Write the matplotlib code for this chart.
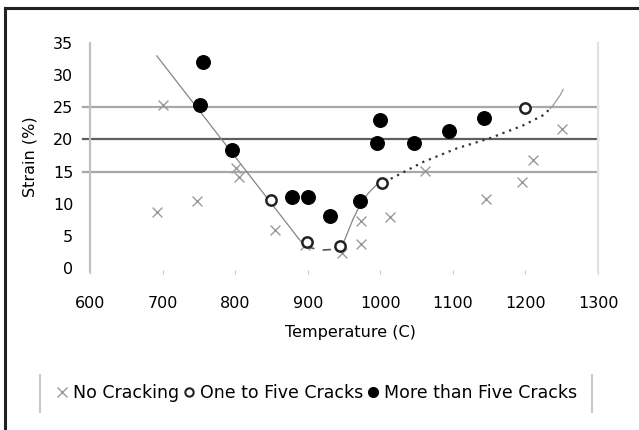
import matplotlib
matplotlib.use("Agg")
import matplotlib.pyplot as plt
from matplotlib.lines import Line2D

plt.rcParams['font.family'] = ['DejaVu Sans']

# data
no_crack_T = [692, 701, 748, 801, 806, 855, 896, 947, 974, 974, 1014, 1061, 1146, 1195, 1210, 1250]
no_crack_S = [8.8, 25.3, 10.4, 15.5, 14.2, 6.0, 3.6, 2.4, 7.3, 3.7, 8.0, 15.1, 10.8, 13.4, 16.8, 21.7]

few_T = [850, 899, 945, 1002, 1200]
few_S = [10.6, 4.1, 3.5, 13.3, 24.9]

many_T = [751, 756, 795, 879, 901, 931, 972, 995, 1000, 1047, 1095, 1143]
many_S = [25.3, 32.0, 18.4, 11.1, 11.1, 8.1, 10.4, 19.5, 23.0, 19.4, 21.3, 23.3]

# hand drawn trend line, in pieces with different dash styles
trend_a_T = [692, 895]
trend_a_S = [33.0, 3.5]
trend_b_T = [898, 920, 945]
trend_b_S = [3.3, 2.8, 3.0]
trend_c_T = [945, 951, 962, 972, 983, 997, 1005]
trend_c_S = [3.5, 4.4, 7.5, 9.8, 11.6, 13.2, 13.6]
trend_d_T = [1005, 1013, 1059, 1105, 1151, 1197, 1225, 1234]
trend_d_S = [13.6, 13.8, 16.5, 18.6, 20.2, 22.2, 23.8, 24.8]
trend_e_T = [1234, 1238, 1248, 1252]
trend_e_S = [24.8, 25.3, 26.9, 27.8]

levels = [15, 20, 25]
level_colors = ['#a8a8a8', '#5e5e5e', '#a8a8a8']

x_ticks = [600, 700, 800, 900, 1000, 1100, 1200, 1300]
y_ticks = [0, 5, 10, 15, 20, 25, 30, 35]

W, H = 639, 430
fig = plt.figure(figsize=(W / 100, H / 100), dpi=100)
ax = fig.add_axes([90 / W, 1 - 272 / H, 508 / W, 229 / H])

for lv, c in zip(levels, level_colors):
    ax.axhline(lv, xmin=-0.013, xmax=1, color=c, lw=1.6, clip_on=False, zorder=1)

line_col = '#858585'
ax.plot(trend_a_T, trend_a_S, color=line_col, lw=0.9, zorder=2)
ax.plot(trend_b_T, trend_b_S, color='#555555', lw=1.2, ls=(0, (5, 5)), zorder=2)
ax.plot(trend_c_T, trend_c_S, color=line_col, lw=0.9, zorder=2)
ax.plot(trend_d_T, trend_d_S, color='#333333', lw=1.6, ls=(0, (1, 2.2)), zorder=2)
ax.plot(trend_e_T, trend_e_S, color='#9a9a9a', lw=0.9, zorder=2)

ax.scatter(no_crack_T, no_crack_S, marker='x', s=50, color='#9a9a9a', linewidths=1.0, zorder=3)
ax.scatter(few_T, few_S, marker='o', s=55, facecolor='white', edgecolor='#222222', linewidths=1.8, zorder=4)
ax.scatter(many_T, many_S, marker='o', s=95, color='black', zorder=4)

ax.set_xlim(600, 1300)
ax.set_ylim(-0.6, 35)
ax.set_xticks(x_ticks)
ax.set_yticks(y_ticks)
ax.tick_params(axis='x', length=3, color='#c8c8c8', direction='inout', pad=16, labelsize=11.5)
ax.tick_params(axis='y', length=0, pad=12, labelsize=11.5)

for s in ['top', 'bottom']:
    ax.spines[s].set_visible(False)
ax.spines['left'].set_color('#c0c0c0')
ax.spines['left'].set_linewidth(1.6)
ax.spines['right'].set_color('#e2e2e2')
ax.spines['right'].set_linewidth(1.6)

fig.text(350 / W, 1 - 332 / H, 'Temperature (C)', ha='center', va='center', fontsize=11.5)
fig.text(30 / W, 1 - 157 / H, 'Strain (%)', ha='center', va='center', rotation=90, fontsize=11.5)

handles = [
    Line2D([], [], ls='none', marker='x', ms=7, mec='#9a9a9a', mew=1.0),
    Line2D([], [], ls='none', marker='o', ms=6, mfc='white', mec='#222222', mew=1.5),
    Line2D([], [], ls='none', marker='o', ms=7, color='black'),
]
labels = ['No Cracking', 'One to Five Cracks', 'More than Five Cracks']
fig.legend(handles, labels, loc='center', bbox_to_anchor=(316 / W, 1 - 393 / H), ncol=3,
           frameon=False, fontsize=12.5, handlelength=0.8, handletextpad=0.2,
           columnspacing=0.2, borderpad=0)

# light vertical bars at the legend ends
for xp in [40, 592]:
    fig.add_artist(Line2D([xp / W, xp / W], [1 - 375 / H, 1 - 412 / H], color='#c8c8c8', lw=1.5))

# dark frame on left and top edges
fig.add_artist(Line2D([5 / W, 5 / W], [0, 1 - 8 / H], color='#222222', lw=2.2))
fig.add_artist(Line2D([5 / W, 1], [1 - 8 / H, 1 - 8 / H], color='#222222', lw=2.2))

fig.savefig('out.png', dpi=100)
